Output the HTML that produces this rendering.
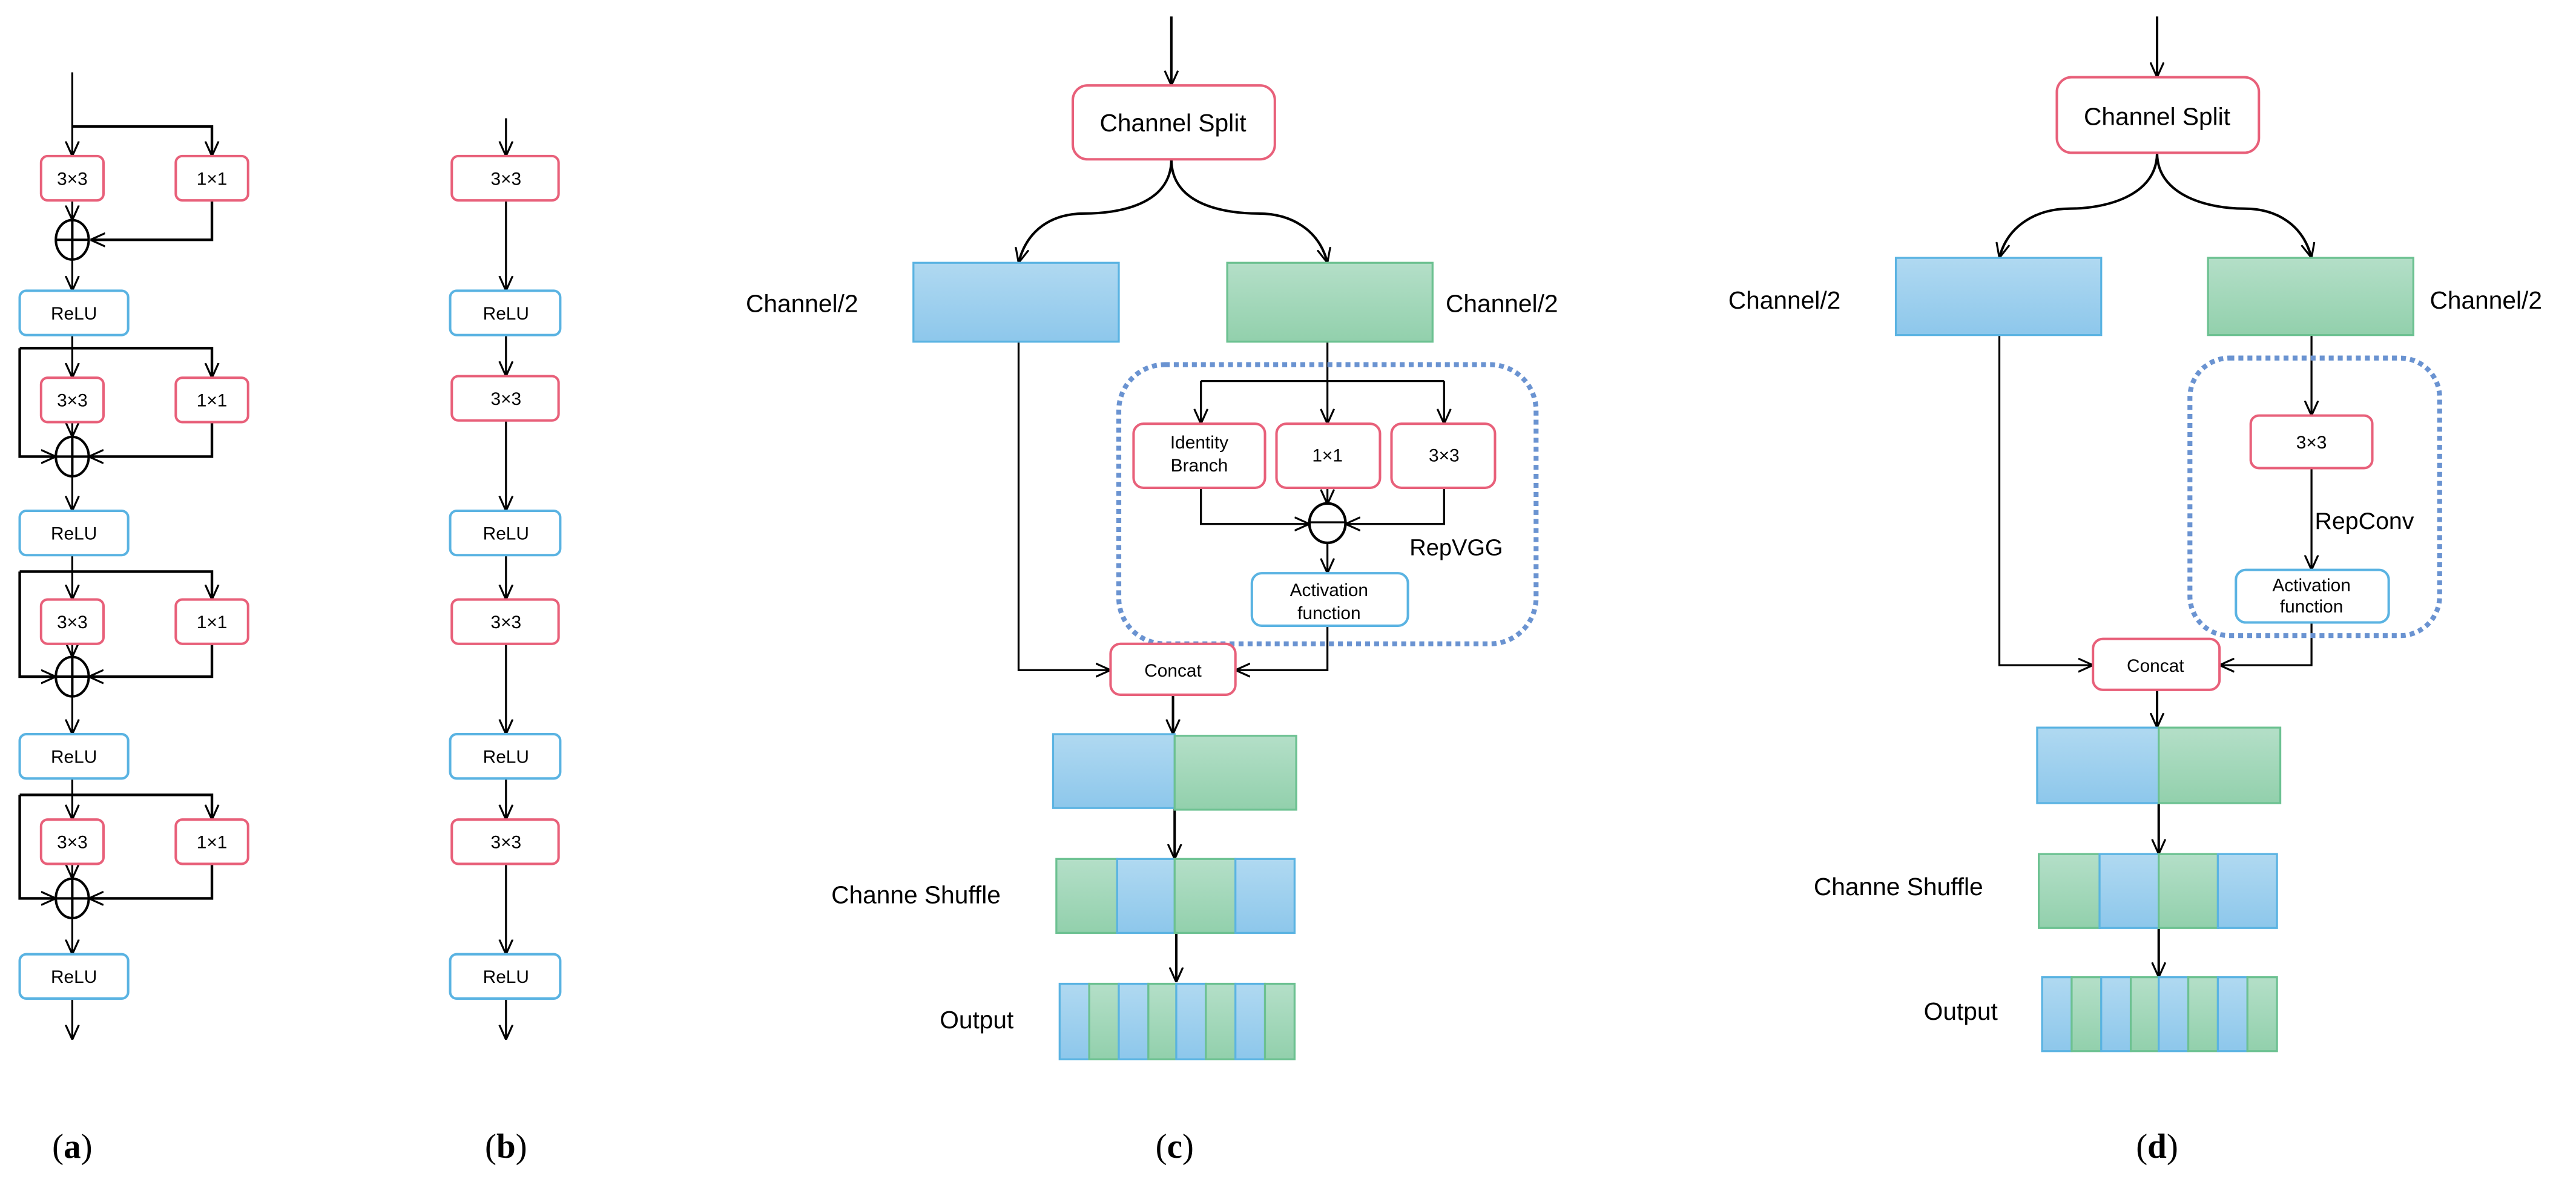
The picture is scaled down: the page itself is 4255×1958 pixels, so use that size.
<!DOCTYPE html>
<html><head><meta charset="utf-8"><style>
html,body{margin:0;padding:0;background:#fff;}
svg{display:block;}
text{font-family:"Liberation Sans",sans-serif;fill:#000;}
</style></head><body>
<svg width="4255" height="1958" viewBox="0 0 1568 721.5" xmlns="http://www.w3.org/2000/svg">
<defs>
<marker id="a" viewBox="0 0 10 10" refX="10" refY="5" markerWidth="9" markerHeight="9" markerUnits="userSpaceOnUse" orient="auto"><path d="M0,0.5 L10,5 L0,9.5" fill="none" stroke="#000" stroke-width="1.3"/></marker>
<linearGradient id="gb" x1="0" y1="0" x2="0" y2="1"><stop offset="0" stop-color="#b0d9f1"/><stop offset="1" stop-color="#8dc7eb"/></linearGradient>
<linearGradient id="gg" x1="0" y1="0" x2="0" y2="1"><stop offset="0" stop-color="#b4dfc8"/><stop offset="1" stop-color="#92d0ac"/></linearGradient>
</defs>
<g fill="none" stroke="#000" stroke-width="1.2">
<!-- panel a -->
<path d="M44,44 V95" marker-end="url(#a)"/>
<path d="M44,77 H129 V95" marker-end="url(#a)" stroke-width="1.6"/>
<path d="M44,122 V134" marker-end="url(#a)"/>
<path d="M129,122 V146 H55" marker-end="url(#a)" stroke-width="1.6"/>
<path d="M44,158 V177" marker-end="url(#a)"/>
<path d="M44,204 V230" marker-end="url(#a)"/>
<path d="M12,212 H129 V230" marker-end="url(#a)" stroke-width="1.6"/>
<path d="M12,212 V278 H34" marker-end="url(#a)" stroke-width="1.6"/>
<path d="M44,257 V266" marker-end="url(#a)"/>
<path d="M129,257 V278 H54" marker-end="url(#a)" stroke-width="1.6"/>
<path d="M44,290 V311" marker-end="url(#a)"/>
<path d="M44,338 V365" marker-end="url(#a)"/>
<path d="M12,348 H129 V365" marker-end="url(#a)" stroke-width="1.6"/>
<path d="M12,348 V412 H34" marker-end="url(#a)" stroke-width="1.6"/>
<path d="M44,392 V400" marker-end="url(#a)"/>
<path d="M129,392 V412 H54" marker-end="url(#a)" stroke-width="1.6"/>
<path d="M44,424 V447" marker-end="url(#a)"/>
<path d="M44,474 V499" marker-end="url(#a)"/>
<path d="M12,484 H129 V499" marker-end="url(#a)" stroke-width="1.6"/>
<path d="M12,484 V547 H34" marker-end="url(#a)" stroke-width="1.6"/>
<path d="M44,526 V535" marker-end="url(#a)"/>
<path d="M129,526 V547 H54" marker-end="url(#a)" stroke-width="1.6"/>
<path d="M44,559 V581" marker-end="url(#a)"/>
<path d="M44,608 V633" marker-end="url(#a)"/>
<g stroke-width="1.5">
<ellipse cx="44" cy="146" rx="10" ry="12"/><path d="M34,146 H54 M44,134 V158"/>
<ellipse cx="44" cy="278" rx="10" ry="12"/><path d="M34,278 H54 M44,266 V290"/>
<ellipse cx="44" cy="412" rx="10" ry="12"/><path d="M34,412 H54 M44,400 V424"/>
<ellipse cx="44" cy="547" rx="10" ry="12"/><path d="M34,547 H54 M44,535 V559"/>
</g>
<!-- panel b -->
<path d="M308,72 V95" marker-end="url(#a)"/>
<path d="M308,122 V177" marker-end="url(#a)"/>
<path d="M308,204 V229" marker-end="url(#a)"/>
<path d="M308,256 V311" marker-end="url(#a)"/>
<path d="M308,338 V365" marker-end="url(#a)"/>
<path d="M308,392 V447" marker-end="url(#a)"/>
<path d="M308,474 V499" marker-end="url(#a)"/>
<path d="M308,526 V581" marker-end="url(#a)"/>
<path d="M308,608 V633" marker-end="url(#a)"/>
<!-- panel c -->
<path d="M713,10 V52" marker-end="url(#a)" stroke-width="1.5"/>
<path d="M713,97 C713,125 680,130 660,130 C640,130 625,140 620,160" marker-end="url(#a)" stroke-width="1.5"/>
<path d="M713,97 C713,125 746,130 766,130 C786,130 803,140 808,160" marker-end="url(#a)" stroke-width="1.5"/>
<path d="M808,208 V232"/>
<path d="M731,232 H879"/>
<path d="M731,232 V258" marker-end="url(#a)"/>
<path d="M808,232 V258" marker-end="url(#a)"/>
<path d="M879,232 V258" marker-end="url(#a)"/>
<path d="M731,297 V319 H797" marker-end="url(#a)"/>
<path d="M879,297 V319 H819" marker-end="url(#a)"/>
<path d="M808,288 V307" marker-end="url(#a)"/>
<path d="M808,330 V349" marker-end="url(#a)"/>
<ellipse cx="808" cy="318.5" rx="11" ry="12" stroke-width="1.6"/>
<path d="M797,318 H819"/>
<path d="M620,208 V408 H676" marker-end="url(#a)"/>
<path d="M808,381 V408 H752" marker-end="url(#a)"/>
<path d="M714,423 V447" marker-end="url(#a)" stroke-width="1.5"/>
<path d="M715,492 V523" marker-end="url(#a)" stroke-width="1.5"/>
<path d="M716,568 V598" marker-end="url(#a)" stroke-width="1.5"/>
<!-- panel d -->
<path d="M1313,10 V47" marker-end="url(#a)" stroke-width="1.5"/>
<path d="M1313,93 C1313,120 1280,127 1260,127 C1240,127 1222,137 1217,157" marker-end="url(#a)" stroke-width="1.5"/>
<path d="M1313,93 C1313,120 1346,127 1366,127 C1386,127 1402,137 1407,157" marker-end="url(#a)" stroke-width="1.5"/>
<path d="M1407,204 V253" marker-end="url(#a)"/>
<path d="M1407,285 V347" marker-end="url(#a)"/>
<path d="M1217,204 V405 H1274" marker-end="url(#a)"/>
<path d="M1407,379 V405 H1351" marker-end="url(#a)"/>
<path d="M1313,420 V443" marker-end="url(#a)" stroke-width="1.5"/>
<path d="M1314,489 V520" marker-end="url(#a)" stroke-width="1.5"/>
<path d="M1314,565 V595" marker-end="url(#a)" stroke-width="1.5"/>
</g>
<!-- dotted -->
<g fill="none" stroke="#6a93d1" stroke-width="3" stroke-dasharray="3,2.5">
<rect x="681" y="222" width="254" height="170" rx="28"/>
<rect x="1333" y="218" width="152" height="169" rx="24"/>
</g>
<!-- red boxes -->
<g fill="#fff" stroke="#e8607a" stroke-width="1.5">
<rect x="25" y="95" width="38" height="27" rx="4"/><rect x="107" y="95" width="44" height="27" rx="4"/>
<rect x="25" y="230" width="38" height="27" rx="4"/><rect x="107" y="230" width="44" height="27" rx="4"/>
<rect x="25" y="365" width="38" height="27" rx="4"/><rect x="107" y="365" width="44" height="27" rx="4"/>
<rect x="25" y="499" width="38" height="27" rx="4"/><rect x="107" y="499" width="44" height="27" rx="4"/>
<rect x="275" y="95" width="65" height="27" rx="4"/>
<rect x="275" y="229" width="65" height="27" rx="4"/>
<rect x="275" y="365" width="65" height="27" rx="4"/>
<rect x="275" y="499" width="65" height="27" rx="4"/>
<rect x="653" y="52" width="123" height="45" rx="9"/>
<rect x="690" y="258" width="80" height="39" rx="6"/>
<rect x="777" y="258" width="63" height="39" rx="6"/>
<rect x="847" y="258" width="63" height="39" rx="6"/>
<rect x="676" y="392" width="76" height="31" rx="6"/>
<rect x="1252" y="47" width="123" height="46" rx="9"/>
<rect x="1370" y="253" width="74" height="32" rx="5"/>
<rect x="1274" y="389" width="77" height="31" rx="6"/>
</g>
<!-- blue outline boxes -->
<g fill="#fff" stroke="#5ab3e2" stroke-width="1.5">
<rect x="12" y="177" width="66" height="27" rx="4"/>
<rect x="12" y="311" width="66" height="27" rx="4"/>
<rect x="12" y="447" width="66" height="27" rx="4"/>
<rect x="12" y="581" width="66" height="27" rx="4"/>
<rect x="274" y="177" width="67" height="27" rx="4"/>
<rect x="274" y="311" width="67" height="27" rx="4"/>
<rect x="274" y="447" width="67" height="27" rx="4"/>
<rect x="274" y="581" width="67" height="27" rx="4"/>
<rect x="762" y="349" width="95" height="32" rx="6"/>
<rect x="1361" y="347" width="93" height="32" rx="6"/>
</g>
<!-- colored bars -->
<g stroke-width="1.2">
<rect x="556" y="160" width="125" height="48" fill="url(#gb)" stroke="#5ab3e2"/>
<rect x="747" y="160" width="125" height="48" fill="url(#gg)" stroke="#6cc191"/>
<rect x="1154" y="157" width="125" height="47" fill="url(#gb)" stroke="#5ab3e2"/>
<rect x="1344" y="157" width="125" height="47" fill="url(#gg)" stroke="#6cc191"/>
<rect x="641" y="447" width="74" height="45" fill="url(#gb)" stroke="#5ab3e2"/>
<rect x="715" y="448" width="74" height="45" fill="url(#gg)" stroke="#6cc191"/>
<rect x="643" y="523" width="37" height="45" fill="url(#gg)" stroke="#6cc191"/>
<rect x="680" y="523" width="35" height="45" fill="url(#gb)" stroke="#5ab3e2"/>
<rect x="715" y="523" width="37" height="45" fill="url(#gg)" stroke="#6cc191"/>
<rect x="752" y="523" width="36" height="45" fill="url(#gb)" stroke="#5ab3e2"/>
<rect x="645" y="599" width="18" height="46" fill="url(#gb)" stroke="#5ab3e2"/>
<rect x="663" y="599" width="18" height="46" fill="url(#gg)" stroke="#6cc191"/>
<rect x="681" y="599" width="18" height="46" fill="url(#gb)" stroke="#5ab3e2"/>
<rect x="699" y="599" width="17" height="46" fill="url(#gg)" stroke="#6cc191"/>
<rect x="716" y="599" width="18" height="46" fill="url(#gb)" stroke="#5ab3e2"/>
<rect x="734" y="599" width="18" height="46" fill="url(#gg)" stroke="#6cc191"/>
<rect x="752" y="599" width="18" height="46" fill="url(#gb)" stroke="#5ab3e2"/>
<rect x="770" y="599" width="18" height="46" fill="url(#gg)" stroke="#6cc191"/>
<rect x="1240" y="443" width="74" height="46" fill="url(#gb)" stroke="#5ab3e2"/>
<rect x="1314" y="443" width="74" height="46" fill="url(#gg)" stroke="#6cc191"/>
<rect x="1241" y="520" width="37" height="45" fill="url(#gg)" stroke="#6cc191"/>
<rect x="1278" y="520" width="36" height="45" fill="url(#gb)" stroke="#5ab3e2"/>
<rect x="1314" y="520" width="36" height="45" fill="url(#gg)" stroke="#6cc191"/>
<rect x="1350" y="520" width="36" height="45" fill="url(#gb)" stroke="#5ab3e2"/>
<rect x="1243" y="595" width="18" height="45" fill="url(#gb)" stroke="#5ab3e2"/>
<rect x="1261" y="595" width="18" height="45" fill="url(#gg)" stroke="#6cc191"/>
<rect x="1279" y="595" width="18" height="45" fill="url(#gb)" stroke="#5ab3e2"/>
<rect x="1297" y="595" width="17" height="45" fill="url(#gg)" stroke="#6cc191"/>
<rect x="1314" y="595" width="18" height="45" fill="url(#gb)" stroke="#5ab3e2"/>
<rect x="1332" y="595" width="18" height="45" fill="url(#gg)" stroke="#6cc191"/>
<rect x="1350" y="595" width="18" height="45" fill="url(#gb)" stroke="#5ab3e2"/>
<rect x="1368" y="595" width="18" height="45" fill="url(#gg)" stroke="#6cc191"/>
</g>
<!-- texts -->
<g font-size="11" text-anchor="middle">
<text x="44" y="112.5">3×3</text><text x="129" y="112.5">1×1</text>
<text x="44" y="247.5">3×3</text><text x="129" y="247.5">1×1</text>
<text x="44" y="382.5">3×3</text><text x="129" y="382.5">1×1</text>
<text x="44" y="516.5">3×3</text><text x="129" y="516.5">1×1</text>
<text x="45" y="194.5">ReLU</text><text x="45" y="328.5">ReLU</text><text x="45" y="464.5">ReLU</text><text x="45" y="598.5">ReLU</text>
<text x="308" y="112.5">3×3</text><text x="308" y="246.5">3×3</text><text x="308" y="382.5">3×3</text><text x="308" y="516.5">3×3</text>
<text x="308" y="194.5">ReLU</text><text x="308" y="328.5">ReLU</text><text x="308" y="464.5">ReLU</text><text x="308" y="598.5">ReLU</text>
<text x="730" y="273">Identity</text><text x="730" y="287">Branch</text>
<text x="808" y="281">1×1</text><text x="879" y="281">3×3</text>
<text x="809" y="363">Activation</text><text x="809" y="377">function</text>
<text x="714" y="412">Concat</text>
<text x="1407" y="273">3×3</text>
<text x="1407" y="360">Activation</text><text x="1407" y="373">function</text>
<text x="1312" y="409">Concat</text>
</g>
<g font-size="15">
<text x="714" y="80" text-anchor="middle">Channel Split</text>
<text x="1313" y="76" text-anchor="middle">Channel Split</text>
<text x="454" y="190">Channel/2</text>
<text x="880" y="190">Channel/2</text>
<text x="1052" y="188">Channel/2</text>
<text x="1479" y="188">Channel/2</text>
<text x="506" y="550">Channe Shuffle</text>
<text x="572" y="626">Output</text>
<text x="1104" y="545">Channe Shuffle</text>
<text x="1171" y="621">Output</text>
<text x="858" y="338" font-size="14">RepVGG</text>
<text x="1409" y="322" font-size="14.5">RepConv</text>
</g>
<g font-size="21" text-anchor="middle">
<text x="44" y="705" style="font-family:'Liberation Serif',serif">(<tspan font-weight="bold">a</tspan>)</text>
<text x="308" y="705" style="font-family:'Liberation Serif',serif">(<tspan font-weight="bold">b</tspan>)</text>
<text x="715" y="705" style="font-family:'Liberation Serif',serif">(<tspan font-weight="bold">c</tspan>)</text>
<text x="1313" y="705" style="font-family:'Liberation Serif',serif">(<tspan font-weight="bold">d</tspan>)</text>
</g>
</svg>
</body></html>
